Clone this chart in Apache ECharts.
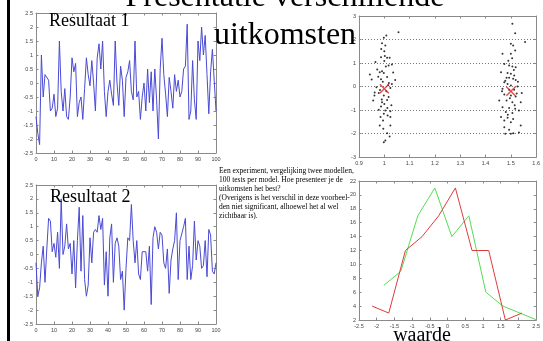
<!DOCTYPE html>
<html>
<head>
<meta charset="utf-8">
<script src="https://cdn.jsdelivr.net/npm/echarts@6/dist/echarts.min.js"></script>
<style>
  html, body { margin: 0; padding: 0; background: #fff; }
  #chart { width: 543px; height: 341px; }
</style>
</head>
<body>
<div id="chart"></div>
<script>
// Resultaat 1 / 2 : one value per test, x = test number 0..100
const result1 = [
  -1.2, -1.8, -2.2, 1.0, -0.5, 0.3, 0.25, 0.1, -1.0, -0.9,
  -0.4, -1.2, -0.9, 1.5, -0.3, -1.0, -0.2, -1.2, -1.3, -0.5,
  0.9, 0.4, 0.7, -1.2, -0.7, -0.5, -1.3, -0.2, 0.9, 0.3,
  -0.1, 0.8, 0.0, -1.0, 0.9, 1.4, 0.5, 1.5, -0.3, -1.2,
  -0.3, 0.1, -0.4, -0.8, 1.5, 0.0, -0.8, 0.6, 0.1, -1.2,
  0.2, 0.4, 0.8, -0.3, -0.6, 1.5, -0.5, -0.3, -1.3, -0.5,
  0.0, -1.0, 0.5, -0.7, 0.4, -1.0, 0.5, -0.6, -2.0, 0.5,
  1.6, 0.3, -0.4, -1.2, 0.2, -0.3, -0.9, 0.3, -0.3, 0.1,
  -0.5, -0.3, 0.5, 0.6, 2.1, -1.3, -1.0, 0.8, -0.6, -1.3,
  1.5, 0.8, 2.0, 1.0, 1.7, 0.3, -1.1, 0.4, 1.2, 0.1,
  -1.0
]
const result2 = [
  -0.3, -1.5, -1.2, -0.3, 0.3, -1.0, 0.2, 1.3, 1.2, 0.1,
  0.4, -0.1, 0.8, -0.5, 2.0, 0.0, 0.3, 1.1, 0.2, 0.4,
  -0.7, 0.5, -1.2, 0.5, 1.7, -0.6, 1.4, -0.9, -1.5, -1.1,
  0.6, -0.3, 0.8, 0.9, 0.8, 1.4, 0.9, 1.3, -1.1, 0.1,
  -1.5, 0.6, 1.1, -1.0, 0.4, 0.6, 0.3, -0.9, -0.6, -2.0,
  -0.5, 0.6, 0.5, 1.8, 0.5, -0.3, 0.5, -0.7, -0.9, 0.1,
  0.1, 0.1, -0.6, 0.3, -1.8, 0.6, 1.0, 0.8, 0.2, 0.8,
  0.7, -0.3, -0.5, 0.2, -1.4, -0.2, 0.2, 0.5, 1.5, -0.9,
  0.5, 0.5, 1.0, 1.3, -0.9, 0.3, -0.9, -0.4, 1.2, -0.2,
  0.5, 0.3, -0.5, -0.4, 0.5, -0.8, 0.9, 0.7, -0.6, -0.7,
  -0.3
]

// scatter: model 1 around x = 1, model 2 around x = 1.5
const model1Points = [
  [1.008, 2.17], [0.998, 2.07], [1.056, 2.31], [0.991, 1.84], [1.004, 1.74],
  [1.000, 1.50], [0.988, 1.60], [0.987, 1.25], [1.011, 1.22], [1.021, 1.22],
  [1.002, 1.30], [0.965, 1.04], [1.000, 1.08], [1.030, 0.94], [1.017, 0.89],
  [1.006, 0.85], [0.972, 0.72], [0.943, 0.51], [0.991, 0.65], [0.982, 0.61],
  [0.998, 0.57], [1.035, 0.60], [0.976, 0.42], [1.011, 0.40], [1.043, 0.28],
  [0.987, 0.31], [0.950, 0.30], [0.994, 0.20], [1.018, 0.15], [1.030, 0.11],
  [1.015, 0.05], [0.969, -0.03], [1.024, -0.06], [0.983, -0.15], [1.008, -0.20],
  [0.962, -0.25], [0.978, -0.28], [0.961, -0.38], [0.998, -0.38], [1.017, -0.45],
  [0.990, -0.55], [0.956, -0.60], [1.011, -0.57], [0.991, -0.67], [1.000, -0.74],
  [1.028, -0.80], [0.987, -0.85], [1.012, -0.92], [0.978, -0.99], [1.004, -1.02],
  [1.024, -1.05], [0.998, -1.16], [1.013, -1.23], [0.985, -1.30], [1.024, -1.30],
  [0.995, -1.45], [0.982, -1.66], [1.024, -1.66], [0.996, -1.80], [1.011, -1.99],
  [1.021, -2.13], [1.004, -2.30], [0.998, -2.37]
]
const model2Points = [
  [1.506, 2.67], [1.517, 2.27], [1.556, 1.89], [1.500, 1.82], [1.509, 1.74],
  [1.517, 1.53], [1.467, 1.39], [1.500, 1.39], [1.505, 1.20], [1.490, 1.10],
  [1.474, 0.96], [1.493, 0.89], [1.506, 0.85], [1.519, 0.82], [1.512, 0.70],
  [1.461, 0.61], [1.487, 0.57], [1.500, 0.54], [1.513, 0.47], [1.483, 0.37],
  [1.493, 0.37], [1.509, 0.33], [1.519, 0.28], [1.478, 0.25], [1.528, 0.20],
  [1.474, 0.18], [1.487, 0.11], [1.500, 0.04], [1.526, 0.00], [1.467, -0.10],
  [1.493, -0.14], [1.513, -0.14], [1.465, -0.20], [1.543, -0.28], [1.523, -0.30],
  [1.474, -0.34], [1.500, -0.38], [1.519, -0.43], [1.496, -0.50], [1.454, -0.60],
  [1.483, -0.60], [1.506, -0.67], [1.539, -0.67], [1.515, -0.80], [1.467, -0.88],
  [1.493, -0.91], [1.517, -0.95], [1.532, -1.02], [1.480, -1.09], [1.506, -1.13],
  [1.488, -1.20], [1.461, -1.30], [1.487, -1.33], [1.509, -1.38], [1.474, -1.45],
  [1.500, -1.52], [1.539, -1.66], [1.474, -1.73], [1.493, -1.84], [1.532, -1.96],
  [1.510, -1.99], [1.478, -2.01], [1.500, -2.01]
]
const means = [[1.0, -0.1], [1.5, -0.2]]

// histogram lines ("waarde" vs count)
const redBins = [-2.13, -1.66, -1.19, -0.72, -0.25, 0.22, 0.69, 1.16, 1.63, 2.10]
const redCounts = [4, 3, 12, 14, 17, 21, 12, 12, 2, 3]
const greenBins = [-1.80, -1.32, -0.84, -0.36, 0.12, 0.60, 1.08, 1.56, 2.04, 2.52]
const greenCounts = [7, 9, 17, 21, 14, 17, 6, 4, 3, 2]

const axisGray = '#8a8a8a'
const labelStyle = { fontSize: 5.5, color: '#444', fontFamily: 'Liberation Sans', margin: 3 }

const mkX = (gridIndex, min, max, interval, top) => ({
  type: 'value', gridIndex, min, max, interval,
  position: top ? 'top' : 'bottom',
  axisLine: { show: true, onZero: false, lineStyle: { color: axisGray } },
  axisTick: { show: true, inside: true, length: 2.5, lineStyle: { color: axisGray } },
  axisLabel: top ? { show: false } : Object.assign({ showMinLabel: true, showMaxLabel: true }, labelStyle),
  splitLine: { show: false },
})
const mkY = (gridIndex, min, max, interval, right, dotted) => ({
  type: 'value', gridIndex, min, max, interval,
  position: right ? 'right' : 'left',
  axisLine: { show: true, onZero: false, lineStyle: { color: axisGray } },
  axisTick: { show: true, inside: true, length: 2.5, lineStyle: { color: axisGray } },
  axisLabel: right ? { show: false } : Object.assign({ showMinLabel: true, showMaxLabel: true }, labelStyle),
  splitLine: dotted ? { show: true, lineStyle: { color: '#777', type: [1, 2], width: 1 } } : { show: false },
})

const xMark = 'path://M0,1L1,0L5,4L9,0L10,1L6,5L10,9L9,10L5,6L1,10L0,9L4,5Z'

const chart = echarts.init(document.getElementById('chart'))

chart.setOption({
  backgroundColor: '#fff',
  animation: false,
  grid: [
    { left: 36, top: 13, width: 180, height: 140 },
    { left: 36, top: 185, width: 180, height: 139 },
    { left: 359, top: 16, width: 178, height: 141 },
    { left: 359, top: 181, width: 178, height: 139 },
  ],
  xAxis: [
    mkX(0, 0, 100, 10), mkX(1, 0, 100, 10), mkX(2, 0.9, 1.6, 0.1), mkX(3, -2.5, 2.5, 0.5),
    mkX(0, 0, 100, 10, true), mkX(1, 0, 100, 10, true), mkX(2, 0.9, 1.6, 0.1, true), mkX(3, -2.5, 2.5, 0.5, true),
  ],
  yAxis: [
    mkY(0, -2.5, 2.5, 0.5), mkY(1, -2.5, 2.5, 0.5), mkY(2, -3, 3, 1, false, true), mkY(3, 2, 22, 2),
    mkY(0, -2.5, 2.5, 0.5, true), mkY(1, -2.5, 2.5, 0.5, true), mkY(2, -3, 3, 1, true), mkY(3, 2, 22, 2, true),
  ],
  series: [
    {
      type: 'line', xAxisIndex: 0, yAxisIndex: 0, symbol: 'none',
      data: result1.map((v, i) => [i, v]),
      lineStyle: { color: '#4a4ad4', width: 1 },
    },
    {
      type: 'line', xAxisIndex: 1, yAxisIndex: 1, symbol: 'none',
      data: result2.map((v, i) => [i, v]),
      lineStyle: { color: '#4a4ad4', width: 1 },
    },
    {
      type: 'scatter', xAxisIndex: 2, yAxisIndex: 2, symbolSize: 2,
      data: model1Points, itemStyle: { color: '#000' },
    },
    {
      type: 'scatter', xAxisIndex: 2, yAxisIndex: 2, symbolSize: 2,
      data: model2Points, itemStyle: { color: '#000' },
    },
    {
      type: 'scatter', xAxisIndex: 2, yAxisIndex: 2, symbol: xMark, symbolSize: 10,
      data: means, itemStyle: { color: '#e02020' }, z: 5,
    },
    {
      type: 'line', xAxisIndex: 3, yAxisIndex: 3, symbol: 'none',
      data: greenBins.map((b, i) => [b, greenCounts[i]]),
      lineStyle: { color: '#55dd55', width: 1 },
    },
    {
      type: 'line', xAxisIndex: 3, yAxisIndex: 3, symbol: 'none',
      data: redBins.map((b, i) => [b, redCounts[i]]),
      lineStyle: { color: '#dd3c3c', width: 1 },
    },
  ],
  graphic: [
    { type: 'rect', z: 100, shape: { x: 7, y: 0, width: 3, height: 341 }, style: { fill: '#000' } },
    {
      type: 'text', z: 100, x: 285, y: -2,
      style: { text: 'Presentatie verschillende', font: '32px "Liberation Serif"', fill: '#000', align: 'center', verticalAlign: 'middle' },
    },
    {
      type: 'text', z: 100, x: 285, y: 36,
      style: { text: 'uitkomsten', font: '32px "Liberation Serif"', fill: '#000', align: 'center', verticalAlign: 'middle' },
    },
    {
      type: 'text', z: 100, x: 49, y: 21,
      style: { text: 'Resultaat 1', font: '18px "Liberation Serif"', fill: '#000', align: 'left', verticalAlign: 'middle' },
    },
    {
      type: 'text', z: 100, x: 50, y: 197,
      style: { text: 'Resultaat 2', font: '18px "Liberation Serif"', fill: '#000', align: 'left', verticalAlign: 'middle' },
    },
    {
      type: 'text', z: 100, x: 422, y: 336,
      style: { text: 'waarde', font: '20px "Liberation Serif"', fill: '#000', align: 'center', verticalAlign: 'middle' },
    },
    {
      type: 'text', z: 100, x: 219, y: 166.5,
      style: {
        text: 'Een experiment, vergelijking twee modellen,\n100 tests per model. Hoe presenteer je de\nuitkomsten het best?\n(Overigens is het verschil in deze voorbeel-\nden niet significant, alhoewel het al wel\nzichtbaar is).',
        font: '7.5px "Liberation Serif"', lineHeight: 9, fill: '#000', align: 'left', verticalAlign: 'top',
      },
    },
  ],
})
</script>
</body>
</html>
